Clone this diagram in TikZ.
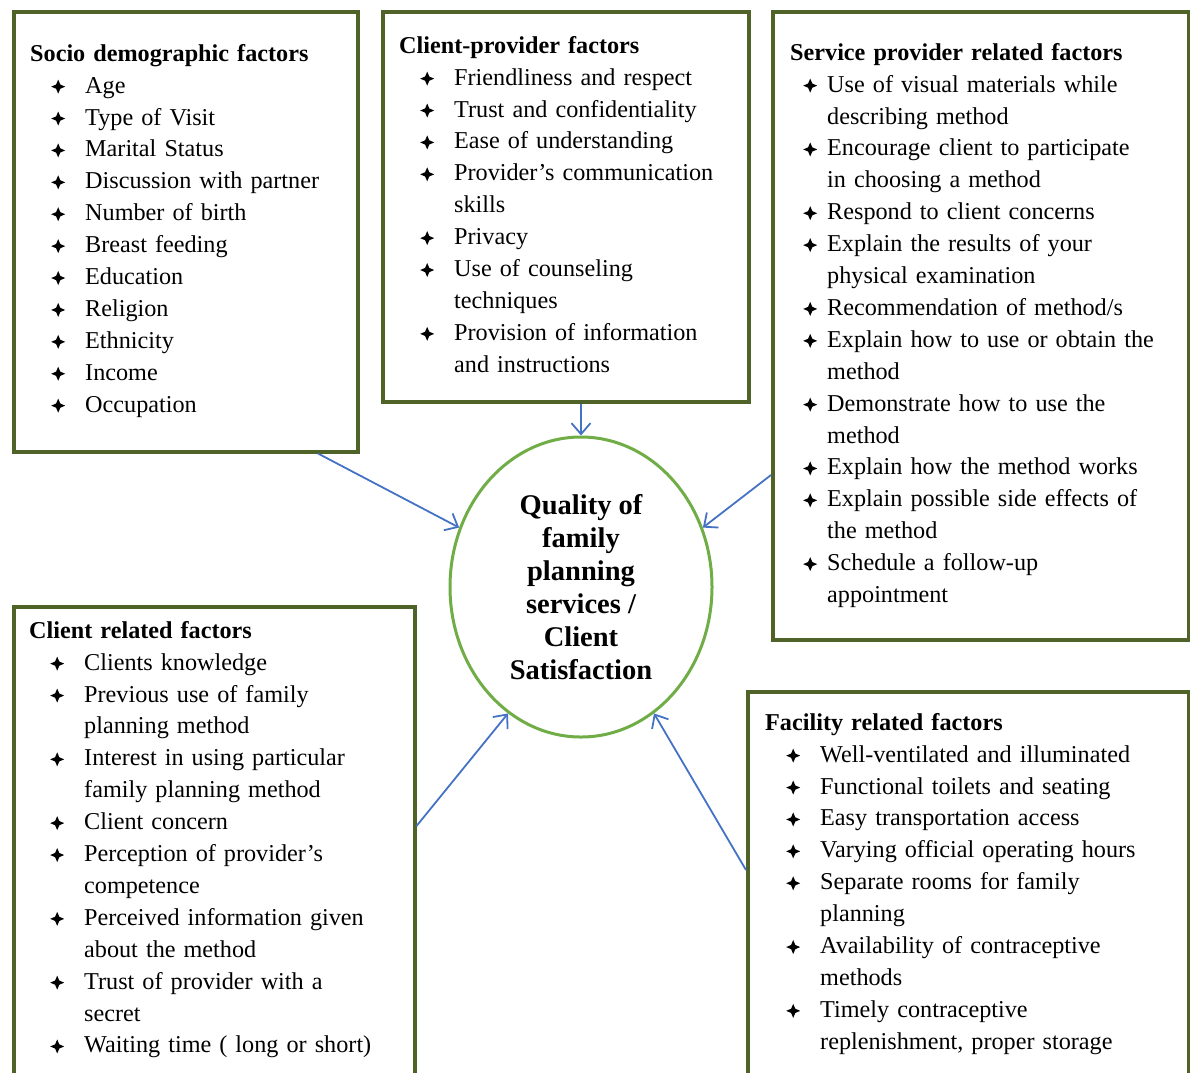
\documentclass[tikz,border=0pt]{standalone}
\usepackage{fontspec}
\setmainfont{Liberation Serif}
\usepackage{xcolor}
\usetikzlibrary{arrows.meta,positioning,shapes.geometric,calc}

\definecolor{boxgreen}{RGB}{79,98,40}
\definecolor{ellgreen}{RGB}{112,173,71}
\definecolor{arrowblue}{RGB}{68,114,196}

% bullet lists inside the factor boxes
\newlength\bulind \setlength\bulind{28pt}
\newlength\bulgap \setlength\bulgap{27pt}
\newcommand{\starbul}{\tikz[x=1pt,y=1pt,baseline=-6.5pt]
  \fill (0,7) -- (2.1,2.1) -- (7,0) -- (2.1,-2.1) -- (0,-7)
    -- (-2.1,-2.1) -- (-7,0) -- (-2.1,2.1) -- cycle;}
\newcommand{\fitem}{\hspace*{\bulind}\makebox[\bulgap][l]{\hspace*{-7pt}\starbul}}
\newcommand{\fcont}{\hspace*{\bulind}\hspace*{\bulgap}}

\begin{document}
\begin{tikzpicture}[
  x=1pt, y=-1pt,
  factbox/.style={draw=boxgreen, line width=3.5pt, anchor=north west, inner sep=0pt},
  listtext/.style={anchor=north west, inner sep=0pt, text width=420pt, align=left,
    font=\fontsize{24.2}{31.9}\selectfont},
  core/.style={draw=ellgreen, line width=3pt, ellipse, minimum width=262pt,
    minimum height=300pt, inner sep=0pt, align=center,
    font=\fontsize{28.5}{33}\selectfont\bfseries},
  feed/.style={draw=arrowblue, line width=1.8pt, -{Straight Barb[length=11pt,width=19pt]}}
]
  \useasboundingbox (0,0) rectangle (1190,1072);

  % boxes
  \node[factbox, minimum width=344pt, minimum height=440pt] (soc) at (12,10) {};
  \node[factbox, minimum width=366pt, minimum height=390pt] (cp) at (381,10) {};
  \node[factbox, minimum width=416pt, minimum height=628pt] (serv) at (771,10) {};
  \node[factbox, minimum width=401pt, minimum height=480pt] (cli) at (12,605) {};
  \node[factbox, minimum width=441pt, minimum height=400pt] (fac) at (746,690) {};

  % lists
  \node[listtext, below right=34pt and 18pt of soc.north west] (soctext) {%
    \textbf{Socio demographic factors}\\
    \fitem Age\\
    \fitem Type of Visit\\
    \fitem Marital Status\\
    \fitem Discussion with partner\\
    \fitem Number of birth\\
    \fitem Breast feeding\\
    \fitem Education\\
    \fitem Religion\\
    \fitem Ethnicity\\
    \fitem Income\\
    \fitem Occupation};
  \node[listtext, below right=26pt and 18pt of cp.north west] (cptext) {%
    \textbf{Client-provider factors}\\
    \fitem Friendliness and respect\\
    \fitem Trust and confidentiality\\
    \fitem Ease of understanding\\
    \fitem Provider's communication\\
    \fcont skills\\
    \fitem Privacy\\
    \fitem Use of counseling\\
    \fcont techniques\\
    \fitem Provision of information\\
    \fcont and instructions};
  \node[listtext, below right=33pt and 19pt of serv.north west] (servtext) {%
    \setlength\bulind{20pt}\setlength\bulgap{17pt}%
    \textbf{Service provider related factors}\\
    \fitem Use of visual materials while\\
    \fcont describing method\\
    \fitem Encourage client to participate\\
    \fcont in choosing a method\\
    \fitem Respond to client concerns\\
    \fitem Explain the results of your\\
    \fcont physical examination\\
    \fitem Recommendation of method/s\\
    \fitem Explain how to use or obtain the\\
    \fcont method\\
    \fitem Demonstrate how to use the\\
    \fcont method\\
    \fitem Explain how the method works\\
    \fitem Explain possible side effects of\\
    \fcont the method\\
    \fitem Schedule a follow-up\\
    \fcont appointment};
  \node[listtext, below right=16pt and 17pt of cli.north west] (clitext) {%
    \textbf{Client related factors}\\
    \fitem Clients knowledge\\
    \fitem Previous use of family\\
    \fcont planning method\\
    \fitem Interest in using particular\\
    \fcont family planning method\\
    \fitem Client concern\\
    \fitem Perception of provider's\\
    \fcont competence\\
    \fitem Perceived information given\\
    \fcont about the method\\
    \fitem Trust of provider with a\\
    \fcont secret\\
    \fitem Waiting time ( long or short)};
  \node[listtext, below right=23pt and 19pt of fac.north west] (factext) {%
    \textbf{Facility related factors}\\
    \fitem Well-ventilated and illuminated\\
    \fitem Functional toilets and seating\\
    \fitem Easy transportation access\\
    \fitem Varying official operating hours\\
    \fitem Separate rooms for family\\
    \fcont planning\\
    \fitem Availability of contraceptive\\
    \fcont methods\\
    \fitem Timely contraceptive\\
    \fcont replenishment, proper storage};

  % centre
  \node[core, text depth=-16pt] (qual) at (581,587) {Quality of\\family\\planning\\services /\\Client\\Satisfaction};

  % arrows into the centre
  \draw[feed] ($(soc.south west)+(306,0)$) -- (qual.154);
  \draw[feed] ($(cp.south west)+(200,0)$) -- (qual.90);
  \draw[feed] ($(serv.north west)+(0,465)$) -- (qual.26);
  \draw[feed] ($(cli.north east)+(0,221)$) -- (qual.240);
  \draw[feed] ($(fac.north west)+(0,180)$) -- (qual.300);
\end{tikzpicture}
\end{document}
